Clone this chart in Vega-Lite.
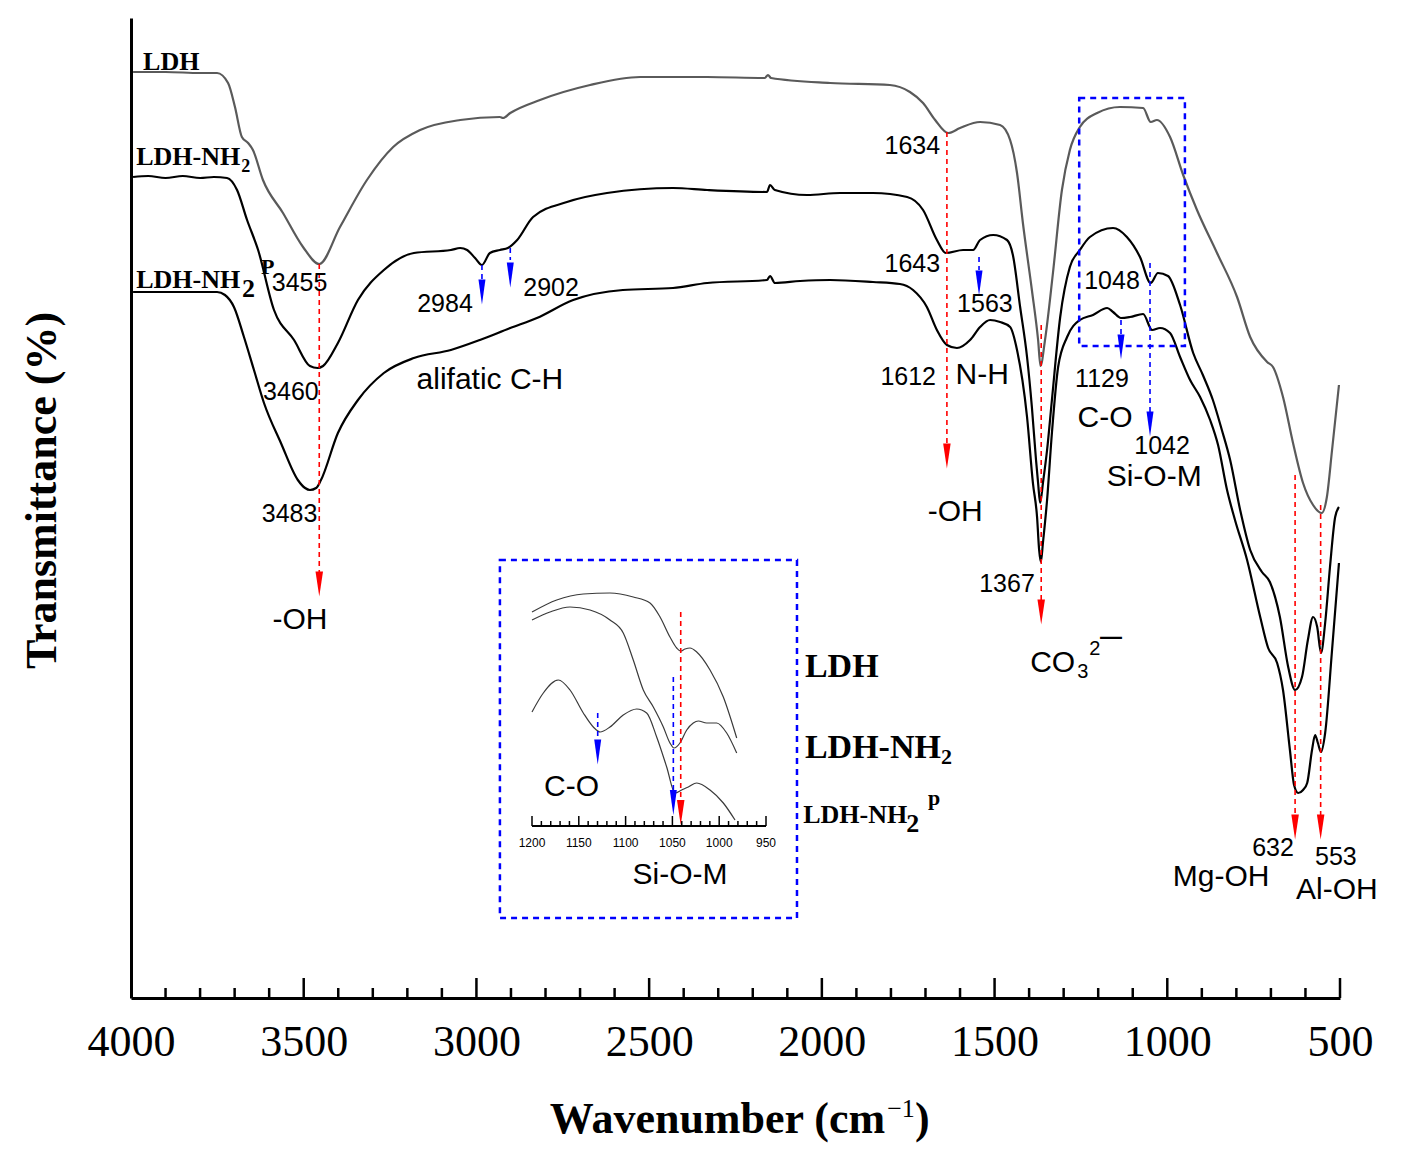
{
"$schema":"https://vega.github.io/schema/vega-lite/v6.json",
"width":1209,"height":980,
"autosize":{"type":"none"},
"padding":{"left":131,"top":18,"right":62,"bottom":161},
"background":"white",
"config":{"view":{"stroke":null}},
"datasets":{
"spec":[
{"s":"LDH","wn":3994,"t":92.6},{"s":"LDH","wn":3900,"t":92.6},{"s":"LDH","wn":3800,"t":92.5},{"s":"LDH","wn":3751,"t":92.5},{"s":"LDH","wn":3719,"t":91.5},{"s":"LDH","wn":3699,"t":89.1},{"s":"LDH","wn":3679,"t":86.1},{"s":"LDH","wn":3661,"t":85.5},{"s":"LDH","wn":3647,"t":84.8},{"s":"LDH","wn":3618,"t":81.8},{"s":"LDH","wn":3560,"t":78.5},{"s":"LDH","wn":3502,"t":75.1},{"s":"LDH","wn":3455,"t":73.4},{"s":"LDH","wn":3395,"t":77.1},{"s":"LDH","wn":3317,"t":81.8},{"s":"LDH","wn":3241,"t":85.1},{"s":"LDH","wn":3163,"t":86.8},{"s":"LDH","wn":3047,"t":87.8},{"s":"LDH","wn":2932,"t":88.1},{"s":"LDH","wn":2923,"t":88.0},{"s":"LDH","wn":2902,"t":88.5},{"s":"LDH","wn":2816,"t":89.8},{"s":"LDH","wn":2671,"t":91.3},{"s":"LDH","wn":2526,"t":92.1},{"s":"LDH","wn":2332,"t":92.1},{"s":"LDH","wn":2165,"t":92.0},{"s":"LDH","wn":2156,"t":92.3},{"s":"LDH","wn":2147,"t":92.0},{"s":"LDH","wn":1976,"t":91.5},{"s":"LDH","wn":1803,"t":91.3},{"s":"LDH","wn":1745,"t":90.6},{"s":"LDH","wn":1707,"t":89.5},{"s":"LDH","wn":1672,"t":87.8},{"s":"LDH","wn":1634,"t":86.5},{"s":"LDH","wn":1600,"t":87.0},{"s":"LDH","wn":1542,"t":87.6},{"s":"LDH","wn":1484,"t":87.3},{"s":"LDH","wn":1455,"t":85.8},{"s":"LDH","wn":1435,"t":82.5},{"s":"LDH","wn":1418,"t":77.5},{"s":"LDH","wn":1392,"t":70.8},{"s":"LDH","wn":1374,"t":65.8},{"s":"LDH","wn":1367,"t":63.2},{"s":"LDH","wn":1354,"t":65.8},{"s":"LDH","wn":1331,"t":72.5},{"s":"LDH","wn":1305,"t":80.8},{"s":"LDH","wn":1282,"t":84.8},{"s":"LDH","wn":1253,"t":87.1},{"s":"LDH","wn":1203,"t":88.5},{"s":"LDH","wn":1137,"t":89.1},{"s":"LDH","wn":1070,"t":89.0},{"s":"LDH","wn":1048,"t":87.6},{"s":"LDH","wn":1030,"t":87.8},{"s":"LDH","wn":992,"t":86.1},{"s":"LDH","wn":954,"t":82.3},{"s":"LDH","wn":914,"t":78.8},{"s":"LDH","wn":856,"t":74.5},{"s":"LDH","wn":798,"t":70.1},{"s":"LDH","wn":760,"t":66.1},{"s":"LDH","wn":711,"t":63.6},{"s":"LDH","wn":694,"t":63.1},{"s":"LDH","wn":665,"t":60.1},{"s":"LDH","wn":636,"t":55.5},{"s":"LDH","wn":607,"t":51.5},{"s":"LDH","wn":578,"t":49.3},{"s":"LDH","wn":553,"t":48.5},{"s":"LDH","wn":538,"t":50.1},{"s":"LDH","wn":523,"t":54.8},{"s":"LDH","wn":503,"t":61.3},
{"s":"LDH-NH2","wn":3994,"t":82.1},{"s":"LDH-NH2","wn":3950,"t":82.2},{"s":"LDH-NH2","wn":3900,"t":82.0},{"s":"LDH-NH2","wn":3850,"t":82.2},{"s":"LDH-NH2","wn":3800,"t":82.0},{"s":"LDH-NH2","wn":3760,"t":82.1},{"s":"LDH-NH2","wn":3722,"t":82.0},{"s":"LDH-NH2","wn":3693,"t":80.8},{"s":"LDH-NH2","wn":3664,"t":77.8},{"s":"LDH-NH2","wn":3632,"t":74.8},{"s":"LDH-NH2","wn":3586,"t":68.8},{"s":"LDH-NH2","wn":3528,"t":65.8},{"s":"LDH-NH2","wn":3482,"t":63.2},{"s":"LDH-NH2","wn":3460,"t":63.0},{"s":"LDH-NH2","wn":3444,"t":63.2},{"s":"LDH-NH2","wn":3401,"t":65.5},{"s":"LDH-NH2","wn":3343,"t":69.8},{"s":"LDH-NH2","wn":3268,"t":72.8},{"s":"LDH-NH2","wn":3181,"t":74.5},{"s":"LDH-NH2","wn":3074,"t":74.8},{"s":"LDH-NH2","wn":3047,"t":75.0},{"s":"LDH-NH2","wn":3027,"t":74.8},{"s":"LDH-NH2","wn":3004,"t":74.0},{"s":"LDH-NH2","wn":2984,"t":73.3},{"s":"LDH-NH2","wn":2961,"t":74.5},{"s":"LDH-NH2","wn":2932,"t":74.8},{"s":"LDH-NH2","wn":2909,"t":75.0},{"s":"LDH-NH2","wn":2882,"t":75.8},{"s":"LDH-NH2","wn":2836,"t":78.1},{"s":"LDH-NH2","wn":2738,"t":79.6},{"s":"LDH-NH2","wn":2622,"t":80.5},{"s":"LDH-NH2","wn":2431,"t":81.0},{"s":"LDH-NH2","wn":2332,"t":80.8},{"s":"LDH-NH2","wn":2159,"t":80.6},{"s":"LDH-NH2","wn":2150,"t":81.3},{"s":"LDH-NH2","wn":2136,"t":80.8},{"s":"LDH-NH2","wn":2043,"t":80.3},{"s":"LDH-NH2","wn":1947,"t":80.5},{"s":"LDH-NH2","wn":1852,"t":80.5},{"s":"LDH-NH2","wn":1753,"t":80.1},{"s":"LDH-NH2","wn":1707,"t":78.8},{"s":"LDH-NH2","wn":1667,"t":75.8},{"s":"LDH-NH2","wn":1641,"t":74.5},{"s":"LDH-NH2","wn":1591,"t":74.8},{"s":"LDH-NH2","wn":1562,"t":74.8},{"s":"LDH-NH2","wn":1542,"t":75.8},{"s":"LDH-NH2","wn":1504,"t":76.3},{"s":"LDH-NH2","wn":1464,"t":75.8},{"s":"LDH-NH2","wn":1447,"t":74.3},{"s":"LDH-NH2","wn":1426,"t":69.1},{"s":"LDH-NH2","wn":1406,"t":64.1},{"s":"LDH-NH2","wn":1392,"t":59.1},{"s":"LDH-NH2","wn":1380,"t":53.8},{"s":"LDH-NH2","wn":1374,"t":51.5},{"s":"LDH-NH2","wn":1368,"t":49.5},{"s":"LDH-NH2","wn":1360,"t":51.5},{"s":"LDH-NH2","wn":1348,"t":54.8},{"s":"LDH-NH2","wn":1334,"t":59.8},{"s":"LDH-NH2","wn":1310,"t":68.1},{"s":"LDH-NH2","wn":1282,"t":73.1},{"s":"LDH-NH2","wn":1253,"t":74.8},{"s":"LDH-NH2","wn":1224,"t":76.1},{"s":"LDH-NH2","wn":1157,"t":77.0},{"s":"LDH-NH2","wn":1117,"t":76.1},{"s":"LDH-NH2","wn":1079,"t":74.1},{"s":"LDH-NH2","wn":1048,"t":71.5},{"s":"LDH-NH2","wn":1027,"t":72.5},{"s":"LDH-NH2","wn":998,"t":72.2},{"s":"LDH-NH2","wn":963,"t":69.3},{"s":"LDH-NH2","wn":925,"t":64.5},{"s":"LDH-NH2","wn":897,"t":62.3},{"s":"LDH-NH2","wn":868,"t":59.8},{"s":"LDH-NH2","wn":842,"t":56.8},{"s":"LDH-NH2","wn":818,"t":53.8},{"s":"LDH-NH2","wn":789,"t":48.8},{"s":"LDH-NH2","wn":760,"t":44.8},{"s":"LDH-NH2","wn":726,"t":42.6},{"s":"LDH-NH2","wn":703,"t":41.6},{"s":"LDH-NH2","wn":674,"t":38.1},{"s":"LDH-NH2","wn":650,"t":33.1},{"s":"LDH-NH2","wn":630,"t":30.8},{"s":"LDH-NH2","wn":610,"t":32.1},{"s":"LDH-NH2","wn":593,"t":35.8},{"s":"LDH-NH2","wn":578,"t":38.1},{"s":"LDH-NH2","wn":566,"t":37.1},{"s":"LDH-NH2","wn":555,"t":34.5},{"s":"LDH-NH2","wn":543,"t":37.5},{"s":"LDH-NH2","wn":529,"t":43.1},{"s":"LDH-NH2","wn":514,"t":48.1},{"s":"LDH-NH2","wn":503,"t":49.1},
{"s":"LDH-NH2p","wn":3994,"t":70.6},{"s":"LDH-NH2p","wn":3900,"t":70.6},{"s":"LDH-NH2p","wn":3800,"t":70.6},{"s":"LDH-NH2p","wn":3751,"t":70.6},{"s":"LDH-NH2p","wn":3728,"t":70.3},{"s":"LDH-NH2p","wn":3702,"t":69.1},{"s":"LDH-NH2p","wn":3673,"t":66.1},{"s":"LDH-NH2p","wn":3644,"t":62.8},{"s":"LDH-NH2p","wn":3615,"t":59.5},{"s":"LDH-NH2p","wn":3566,"t":55.5},{"s":"LDH-NH2p","wn":3517,"t":51.8},{"s":"LDH-NH2p","wn":3496,"t":51.0},{"s":"LDH-NH2p","wn":3482,"t":50.8},{"s":"LDH-NH2p","wn":3464,"t":51.0},{"s":"LDH-NH2p","wn":3450,"t":51.8},{"s":"LDH-NH2p","wn":3401,"t":56.5},{"s":"LDH-NH2p","wn":3343,"t":59.8},{"s":"LDH-NH2p","wn":3268,"t":62.5},{"s":"LDH-NH2p","wn":3181,"t":64.0},{"s":"LDH-NH2p","wn":3074,"t":64.8},{"s":"LDH-NH2p","wn":2990,"t":65.8},{"s":"LDH-NH2p","wn":2902,"t":67.0},{"s":"LDH-NH2p","wn":2825,"t":68.0},{"s":"LDH-NH2p","wn":2720,"t":69.8},{"s":"LDH-NH2p","wn":2576,"t":70.8},{"s":"LDH-NH2p","wn":2431,"t":71.0},{"s":"LDH-NH2p","wn":2332,"t":71.5},{"s":"LDH-NH2p","wn":2159,"t":71.8},{"s":"LDH-NH2p","wn":2150,"t":72.2},{"s":"LDH-NH2p","wn":2136,"t":71.5},{"s":"LDH-NH2p","wn":2063,"t":71.7},{"s":"LDH-NH2p","wn":1976,"t":71.8},{"s":"LDH-NH2p","wn":1852,"t":71.6},{"s":"LDH-NH2p","wn":1774,"t":71.4},{"s":"LDH-NH2p","wn":1736,"t":70.8},{"s":"LDH-NH2p","wn":1696,"t":69.1},{"s":"LDH-NH2p","wn":1667,"t":66.8},{"s":"LDH-NH2p","wn":1638,"t":65.3},{"s":"LDH-NH2p","wn":1609,"t":65.0},{"s":"LDH-NH2p","wn":1571,"t":65.8},{"s":"LDH-NH2p","wn":1542,"t":67.1},{"s":"LDH-NH2p","wn":1513,"t":67.8},{"s":"LDH-NH2p","wn":1484,"t":67.6},{"s":"LDH-NH2p","wn":1455,"t":67.1},{"s":"LDH-NH2p","wn":1435,"t":64.8},{"s":"LDH-NH2p","wn":1406,"t":58.1},{"s":"LDH-NH2p","wn":1389,"t":51.5},{"s":"LDH-NH2p","wn":1377,"t":48.1},{"s":"LDH-NH2p","wn":1371,"t":44.8},{"s":"LDH-NH2p","wn":1366,"t":43.6},{"s":"LDH-NH2p","wn":1360,"t":45.5},{"s":"LDH-NH2p","wn":1348,"t":49.8},{"s":"LDH-NH2p","wn":1334,"t":56.5},{"s":"LDH-NH2p","wn":1316,"t":63.1},{"s":"LDH-NH2p","wn":1290,"t":66.1},{"s":"LDH-NH2p","wn":1253,"t":67.8},{"s":"LDH-NH2p","wn":1215,"t":68.3},{"s":"LDH-NH2p","wn":1174,"t":69.0},{"s":"LDH-NH2p","wn":1157,"t":68.6},{"s":"LDH-NH2p","wn":1134,"t":68.0},{"s":"LDH-NH2p","wn":1108,"t":68.1},{"s":"LDH-NH2p","wn":1070,"t":68.4},{"s":"LDH-NH2p","wn":1044,"t":66.8},{"s":"LDH-NH2p","wn":1021,"t":67.0},{"s":"LDH-NH2p","wn":992,"t":66.5},{"s":"LDH-NH2p","wn":963,"t":64.1},{"s":"LDH-NH2p","wn":934,"t":61.8},{"s":"LDH-NH2p","wn":905,"t":60.1},{"s":"LDH-NH2p","wn":876,"t":57.8},{"s":"LDH-NH2p","wn":853,"t":55.3},{"s":"LDH-NH2p","wn":827,"t":50.8},{"s":"LDH-NH2p","wn":804,"t":47.8},{"s":"LDH-NH2p","wn":769,"t":43.8},{"s":"LDH-NH2p","wn":731,"t":38.1},{"s":"LDH-NH2p","wn":708,"t":35.0},{"s":"LDH-NH2p","wn":682,"t":33.5},{"s":"LDH-NH2p","wn":665,"t":30.8},{"s":"LDH-NH2p","wn":645,"t":24.8},{"s":"LDH-NH2p","wn":633,"t":21.3},{"s":"LDH-NH2p","wn":621,"t":20.5},{"s":"LDH-NH2p","wn":607,"t":20.8},{"s":"LDH-NH2p","wn":595,"t":21.5},{"s":"LDH-NH2p","wn":581,"t":24.8},{"s":"LDH-NH2p","wn":572,"t":26.3},{"s":"LDH-NH2p","wn":564,"t":25.5},{"s":"LDH-NH2p","wn":555,"t":24.6},{"s":"LDH-NH2p","wn":543,"t":26.5},{"s":"LDH-NH2p","wn":523,"t":34.8},{"s":"LDH-NH2p","wn":503,"t":43.5}
],
"rules":[
{"c":"r","wn":3455,"t1":73.4,"t2":42.6},{"c":"r","wn":1638,"t1":86.6,"t2":55.3},{"c":"r","wn":1365,"t1":67.3,"t2":39.8},{"c":"r","wn":630,"t1":52.3,"t2":18.3},{"c":"r","wn":556,"t1":49.3,"t2":18.3},
{"c":"b","wn":2984,"t1":73.3,"t2":71.8},{"c":"b","wn":2902,"t1":75.0,"t2":73.8},{"c":"b","wn":1545,"t1":74.1,"t2":72.8},{"c":"b","wn":1134,"t1":67.8,"t2":66.3},{"c":"b","wn":1050,"t1":73.5,"t2":58.6}
],
"arrows":[
{"c":"r","wn":3455,"t":41.4},{"c":"r","wn":1638,"t":54.2},{"c":"r","wn":1365,"t":38.6},{"c":"r","wn":630,"t":17.1},{"c":"r","wn":556,"t":17.1},
{"c":"b","wn":2984,"t":70.6},{"c":"b","wn":2902,"t":72.3},{"c":"b","wn":1545,"t":71.5},{"c":"b","wn":1134,"t":65.1},{"c":"b","wn":1050,"t":57.4}
],
"boxes":[{"wn":1255,"wn2":949,"t":90.0,"t2":65.2},{"wn":2932,"wn2":2072,"t":43.8,"t2":8.0}],
"ticks":[
{"wn":3500,"t0":0,"len":2},{"wn":3000,"t0":0,"len":2},{"wn":2500,"t0":0,"len":2},{"wn":2000,"t0":0,"len":2},{"wn":1500,"t0":0,"len":2},{"wn":1000,"t0":0,"len":2},{"wn":500,"t0":0,"len":2},
{"wn":3900,"t0":0,"len":1},{"wn":3800,"t0":0,"len":1},{"wn":3700,"t0":0,"len":1},{"wn":3600,"t0":0,"len":1},{"wn":3400,"t0":0,"len":1},{"wn":3300,"t0":0,"len":1},{"wn":3200,"t0":0,"len":1},{"wn":3100,"t0":0,"len":1},{"wn":2900,"t0":0,"len":1},{"wn":2800,"t0":0,"len":1},{"wn":2700,"t0":0,"len":1},{"wn":2600,"t0":0,"len":1},{"wn":2400,"t0":0,"len":1},{"wn":2300,"t0":0,"len":1},{"wn":2200,"t0":0,"len":1},{"wn":2100,"t0":0,"len":1},{"wn":1900,"t0":0,"len":1},{"wn":1800,"t0":0,"len":1},{"wn":1700,"t0":0,"len":1},{"wn":1600,"t0":0,"len":1},{"wn":1400,"t0":0,"len":1},{"wn":1300,"t0":0,"len":1},{"wn":1200,"t0":0,"len":1},{"wn":1100,"t0":0,"len":1},{"wn":900,"t0":0,"len":1},{"wn":800,"t0":0,"len":1},{"wn":700,"t0":0,"len":1},{"wn":600,"t0":0,"len":1}
],
"lab":[
{"g":"num","wn":3512,"t":71.5,"text":"3455"},{"g":"num","wn":3537,"t":60.6,"text":"3460"},{"g":"num","wn":3541,"t":48.4,"text":"3483"},{"g":"num","wn":3091,"t":69.4,"text":"2984"},{"g":"num","wn":2784,"t":71.0,"text":"2902"},{"g":"num","wn":1738,"t":85.2,"text":"1634"},{"g":"num","wn":1738,"t":73.4,"text":"1643"},{"g":"num","wn":1750,"t":62.1,"text":"1612"},{"g":"num","wn":1528,"t":69.4,"text":"1563"},{"g":"num","wn":1464,"t":41.4,"text":"1367"},{"g":"num","wn":1160,"t":71.7,"text":"1048"},{"g":"num","wn":1189,"t":61.9,"text":"1129"},{"g":"num","wn":1015,"t":55.2,"text":"1042"},{"g":"num","wn":694,"t":15.0,"text":"632"},{"g":"num","wn":512,"t":14.1,"text":"553"},
{"g":"word","wn":3511,"t":37.8,"text":"-OH"},{"g":"word","wn":2961,"t":61.8,"text":"alifatic C-H"},{"g":"word","wn":1536,"t":62.3,"text":"N-H"},{"g":"word","wn":1614,"t":48.6,"text":"-OH"},{"g":"word","wn":1180,"t":58.0,"text":"C-O"},{"g":"word","wn":1038,"t":52.1,"text":"Si-O-M"},{"g":"word","wn":844,"t":12.1,"text":"Mg-OH"},{"g":"word","wn":509,"t":10.8,"text":"Al-OH"},
{"g":"co","wn":1397,"t":32.6,"text":"CO"},{"g":"cosub","wn":1261,"t":32.0,"text":"3"},{"g":"cosub","wn":1226,"t":34.3,"text":"2"},{"g":"codash","wn":1195,"t":35.4,"text":"—"},
{"g":"name","wn":3965,"t":92.8,"text":"LDH"},{"g":"name","wn":3985,"t":83.3,"text":"LDH-NH"},{"g":"name","wn":3985,"t":71.0,"text":"LDH-NH"},{"g":"name","wn":3679,"t":70.1,"text":"2"},
{"g":"namesub","wn":3681,"t":82.6,"text":"2"},{"g":"nameP","wn":3624,"t":72.4,"text":"P"},
{"g":"iname","wn":2049,"t":32.1,"text":"LDH"},{"g":"iname","wn":2049,"t":24.0,"text":"LDH-NH"},
{"g":"inamesub","wn":1655,"t":23.4,"text":"2"},{"g":"inamesub","wn":1693,"t":19.3,"text":"p"},
{"g":"iname3","wn":2054,"t":17.5,"text":"LDH-NH"},{"g":"iname3","wn":1756,"t":16.6,"text":"2"},
{"g":"xtitle","wn":1817,"t":-13.5,"text":"Wavenumber (cm"},{"g":"xtitle2","wn":1730,"t":-13.5,"text":")"},{"g":"xsup","wn":1811,"t":-11.9,"text":"−1"}
],
"inset":[
{"s":"i1","wn":1200,"t":38.6},{"s":"i1","wn":1173.6,"t":39.8},{"s":"i1","wn":1145.2,"t":40.4},{"s":"i1","wn":1116.7,"t":40.5},{"s":"i1","wn":1091.8,"t":40.1},{"s":"i1","wn":1073.9,"t":39.5},{"s":"i1","wn":1063.2,"t":38.1},{"s":"i1","wn":1052.6,"t":36.1},{"s":"i1","wn":1045.4,"t":35.0},{"s":"i1","wn":1041.1,"t":34.7},{"s":"i1","wn":1036.5,"t":34.9},{"s":"i1","wn":1031.2,"t":35.0},{"s":"i1","wn":1024.0,"t":34.6},{"s":"i1","wn":1009.8,"t":32.8},{"s":"i1","wn":995.6,"t":30.1},{"s":"i1","wn":981.3,"t":26.0},
{"s":"i2","wn":1200,"t":37.8},{"s":"i2","wn":1180.8,"t":38.6},{"s":"i2","wn":1159.4,"t":39.1},{"s":"i2","wn":1138.0,"t":38.8},{"s":"i2","wn":1116.7,"t":37.8},{"s":"i2","wn":1102.5,"t":36.5},{"s":"i2","wn":1091.8,"t":33.8},{"s":"i2","wn":1081.1,"t":30.8},{"s":"i2","wn":1070.4,"t":29.1},{"s":"i2","wn":1059.7,"t":27.1},{"s":"i2","wn":1052.6,"t":25.5},{"s":"i2","wn":1048.3,"t":25.0},{"s":"i2","wn":1041.9,"t":25.5},{"s":"i2","wn":1034.7,"t":26.8},{"s":"i2","wn":1027.7,"t":27.5},{"s":"i2","wn":1022.3,"t":27.7},{"s":"i2","wn":1013.4,"t":27.5},{"s":"i2","wn":1002.7,"t":27.5},{"s":"i2","wn":992.0,"t":26.5},{"s":"i2","wn":981.3,"t":24.5},
{"s":"i3","wn":1200,"t":28.6},{"s":"i3","wn":1187.9,"t":30.5},{"s":"i3","wn":1171.9,"t":31.8},{"s":"i3","wn":1159.4,"t":30.8},{"s":"i3","wn":1145.2,"t":28.5},{"s":"i3","wn":1134.5,"t":27.1},{"s":"i3","wn":1127.3,"t":26.6},{"s":"i3","wn":1116.7,"t":27.1},{"s":"i3","wn":1102.5,"t":28.3},{"s":"i3","wn":1088.1,"t":28.9},{"s":"i3","wn":1077.5,"t":28.5},{"s":"i3","wn":1066.8,"t":26.1},{"s":"i3","wn":1056.1,"t":23.1},{"s":"i3","wn":1047.2,"t":20.5},{"s":"i3","wn":1040.1,"t":20.8},{"s":"i3","wn":1033.0,"t":21.1},{"s":"i3","wn":1024.0,"t":21.5},{"s":"i3","wn":1009.8,"t":20.8},{"s":"i3","wn":995.6,"t":19.5},{"s":"i3","wn":983.1,"t":17.8}
],
"irules":[{"c":"r","wn":1041.1,"t1":38.6,"t2":19.8},{"c":"b","wn":1049.0,"t1":32.1,"t2":20.8},{"c":"b","wn":1129.8,"t1":28.5,"t2":25.8}],
"iarrows":[{"c":"r","wn":1041.1,"t":18.55},{"c":"b","wn":1049.0,"t":19.55},{"c":"b","wn":1129.8,"t":24.6}],
"iaxis":[{"wn":1200,"wn2":950,"t":17.2}],
"iticks":[
{"wn":1200,"t1":17.2,"t2":18.2},{"wn":1150,"t1":17.2,"t2":18.2},{"wn":1100,"t1":17.2,"t2":18.2},{"wn":1050,"t1":17.2,"t2":18.2},{"wn":1000,"t1":17.2,"t2":18.2},{"wn":950,"t1":17.2,"t2":18.2},
{"wn":1190,"t1":17.2,"t2":17.7},{"wn":1180,"t1":17.2,"t2":17.7},{"wn":1170,"t1":17.2,"t2":17.7},{"wn":1160,"t1":17.2,"t2":17.7},{"wn":1140,"t1":17.2,"t2":17.7},{"wn":1130,"t1":17.2,"t2":17.7},{"wn":1120,"t1":17.2,"t2":17.7},{"wn":1110,"t1":17.2,"t2":17.7},{"wn":1090,"t1":17.2,"t2":17.7},{"wn":1080,"t1":17.2,"t2":17.7},{"wn":1070,"t1":17.2,"t2":17.7},{"wn":1060,"t1":17.2,"t2":17.7},{"wn":1040,"t1":17.2,"t2":17.7},{"wn":1030,"t1":17.2,"t2":17.7},{"wn":1020,"t1":17.2,"t2":17.7},{"wn":1010,"t1":17.2,"t2":17.7},{"wn":990,"t1":17.2,"t2":17.7},{"wn":980,"t1":17.2,"t2":17.7},{"wn":970,"t1":17.2,"t2":17.7},{"wn":960,"t1":17.2,"t2":17.7}
],
"ilab":[
{"g":"tick","wn":1200,"t":15.5,"text":"1200"},{"g":"tick","wn":1150,"t":15.5,"text":"1150"},{"g":"tick","wn":1100,"t":15.5,"text":"1100"},{"g":"tick","wn":1050,"t":15.5,"text":"1050"},{"g":"tick","wn":1000,"t":15.5,"text":"1000"},{"g":"tick","wn":950,"t":15.5,"text":"950"},
{"g":"word","wn":1157.8,"t":21.1,"text":"C-O"},{"g":"word","wn":1041.9,"t":12.3,"text":"Si-O-M"}
]
},
"resolve":{"scale":{"x":"independent"}},
"layer":[
{"layer":[
{"data":{"name":"spec"},"mark":{"type":"line","strokeWidth":2.2,"interpolate":"monotone"},
 "encoding":{
  "x":{"field":"wn","type":"quantitative","scale":{"domain":[4000,500],"nice":false,"zero":false},
   "axis":{"values":[4000,3500,3000,2500,2000,1500,1000,500],"format":"d","ticks":false,"grid":false,"domainColor":"black","domainWidth":3,"labelFont":"Liberation Serif","labelFontSize":44,"labelColor":"black","labelPadding":22,"labelFlush":false,"labelOverlap":false,"title":null}},
  "y":{"field":"t","type":"quantitative","scale":{"domain":[0,98],"nice":false,"zero":false},
   "axis":{"ticks":false,"labels":false,"grid":false,"domainColor":"black","domainWidth":3,"title":"Transmittance (%)","titleFont":"Liberation Serif","titleFontSize":44,"titleFontWeight":"bold","titleColor":"black","titleX":-89,"titleY":472,"titleAngle":-90,"titleAlign":"center","titleBaseline":"middle"}},
  "color":{"field":"s","type":"nominal","scale":{"domain":["LDH","LDH-NH2","LDH-NH2p"],"range":["#5a5a5a","#000000","#000000"]},"legend":null}}},
{"data":{"name":"ticks"},"mark":{"type":"rule","color":"black","strokeWidth":2.5},
 "encoding":{"x":{"field":"wn","type":"quantitative"},"y":{"field":"t0","type":"quantitative"},"y2":{"field":"len"}}},
{"data":{"name":"rules"},"transform":[{"filter":"datum.c=='r'"}],"mark":{"type":"rule","color":"#ff0000","strokeDash":[5,4],"strokeWidth":1.6},
 "encoding":{"x":{"field":"wn","type":"quantitative"},"y":{"field":"t1","type":"quantitative"},"y2":{"field":"t2"}}},
{"data":{"name":"rules"},"transform":[{"filter":"datum.c=='b'"}],"mark":{"type":"rule","color":"#0000ff","strokeDash":[5,4],"strokeWidth":1.6},
 "encoding":{"x":{"field":"wn","type":"quantitative"},"y":{"field":"t1","type":"quantitative"},"y2":{"field":"t2"}}},
{"data":{"name":"arrows"},"transform":[{"filter":"datum.c=='r'"}],"mark":{"type":"point","shape":"M-0.3,-1L0.3,-1L0,1Z","size":625,"filled":true,"color":"#ff0000","opacity":1,"strokeWidth":0},
 "encoding":{"x":{"field":"wn","type":"quantitative"},"y":{"field":"t","type":"quantitative"}}},
{"data":{"name":"arrows"},"transform":[{"filter":"datum.c=='b'"}],"mark":{"type":"point","shape":"M-0.28,-1L0.28,-1L0,1Z","size":625,"filled":true,"color":"#0000ff","opacity":1,"strokeWidth":0},
 "encoding":{"x":{"field":"wn","type":"quantitative"},"y":{"field":"t","type":"quantitative"}}},
{"data":{"name":"boxes"},"mark":{"type":"rect","filled":false,"stroke":"#0000ff","strokeWidth":2.5,"strokeDash":[6,5]},
 "encoding":{"x":{"field":"wn","type":"quantitative"},"x2":{"field":"wn2"},"y":{"field":"t","type":"quantitative"},"y2":{"field":"t2"}}},
{"data":{"name":"lab"},"transform":[{"filter":"datum.g=='num'"}],"mark":{"type":"text","font":"Liberation Sans","fontSize":25,"align":"center","baseline":"middle","color":"black"},
 "encoding":{"x":{"field":"wn","type":"quantitative"},"y":{"field":"t","type":"quantitative"},"text":{"field":"text","type":"nominal"}}},
{"data":{"name":"lab"},"transform":[{"filter":"datum.g=='word'"}],"mark":{"type":"text","font":"Liberation Sans","fontSize":30,"align":"center","baseline":"middle","color":"black"},
 "encoding":{"x":{"field":"wn","type":"quantitative"},"y":{"field":"t","type":"quantitative"},"text":{"field":"text","type":"nominal"}}},
{"data":{"name":"lab"},"transform":[{"filter":"datum.g=='co'"}],"mark":{"type":"text","font":"Liberation Sans","fontSize":30,"align":"left","baseline":"alphabetic","color":"black"},
 "encoding":{"x":{"field":"wn","type":"quantitative"},"y":{"field":"t","type":"quantitative"},"text":{"field":"text","type":"nominal"}}},
{"data":{"name":"lab"},"transform":[{"filter":"datum.g=='cosub'"}],"mark":{"type":"text","font":"Liberation Sans","fontSize":20,"align":"left","baseline":"alphabetic","color":"black"},
 "encoding":{"x":{"field":"wn","type":"quantitative"},"y":{"field":"t","type":"quantitative"},"text":{"field":"text","type":"nominal"}}},
{"data":{"name":"lab"},"transform":[{"filter":"datum.g=='codash'"}],"mark":{"type":"text","font":"Liberation Sans","fontSize":22,"align":"left","baseline":"alphabetic","color":"black","fontWeight":"bold"},
 "encoding":{"x":{"field":"wn","type":"quantitative"},"y":{"field":"t","type":"quantitative"},"text":{"field":"text","type":"nominal"}}},
{"data":{"name":"lab"},"transform":[{"filter":"datum.g=='name'"}],"mark":{"type":"text","font":"Liberation Serif","fontSize":26,"fontWeight":"bold","align":"left","baseline":"alphabetic","color":"black"},
 "encoding":{"x":{"field":"wn","type":"quantitative"},"y":{"field":"t","type":"quantitative"},"text":{"field":"text","type":"nominal"}}},
{"data":{"name":"lab"},"transform":[{"filter":"datum.g=='namesub'"}],"mark":{"type":"text","font":"Liberation Serif","fontSize":18,"fontWeight":"bold","align":"left","baseline":"alphabetic","color":"black"},
 "encoding":{"x":{"field":"wn","type":"quantitative"},"y":{"field":"t","type":"quantitative"},"text":{"field":"text","type":"nominal"}}},
{"data":{"name":"lab"},"transform":[{"filter":"datum.g=='nameP'"}],"mark":{"type":"text","font":"Liberation Serif","fontSize":22,"fontWeight":"bold","align":"left","baseline":"alphabetic","color":"black"},
 "encoding":{"x":{"field":"wn","type":"quantitative"},"y":{"field":"t","type":"quantitative"},"text":{"field":"text","type":"nominal"}}},
{"data":{"name":"lab"},"transform":[{"filter":"datum.g=='iname'"}],"mark":{"type":"text","font":"Liberation Serif","fontSize":34,"fontWeight":"bold","align":"left","baseline":"alphabetic","color":"black"},
 "encoding":{"x":{"field":"wn","type":"quantitative"},"y":{"field":"t","type":"quantitative"},"text":{"field":"text","type":"nominal"}}},
{"data":{"name":"lab"},"transform":[{"filter":"datum.g=='inamesub'"}],"mark":{"type":"text","font":"Liberation Serif","fontSize":22,"fontWeight":"bold","align":"left","baseline":"alphabetic","color":"black"},
 "encoding":{"x":{"field":"wn","type":"quantitative"},"y":{"field":"t","type":"quantitative"},"text":{"field":"text","type":"nominal"}}},
{"data":{"name":"lab"},"transform":[{"filter":"datum.g=='iname3'"}],"mark":{"type":"text","font":"Liberation Serif","fontSize":26,"fontWeight":"bold","align":"left","baseline":"alphabetic","color":"black"},
 "encoding":{"x":{"field":"wn","type":"quantitative"},"y":{"field":"t","type":"quantitative"},"text":{"field":"text","type":"nominal"}}},
{"data":{"name":"lab"},"transform":[{"filter":"datum.g=='xtitle'"}],"mark":{"type":"text","font":"Liberation Serif","fontSize":44,"fontWeight":"bold","align":"right","baseline":"alphabetic","color":"black"},
 "encoding":{"x":{"field":"wn","type":"quantitative"},"y":{"field":"t","type":"quantitative"},"text":{"field":"text","type":"nominal"}}},
{"data":{"name":"lab"},"transform":[{"filter":"datum.g=='xtitle2'"}],"mark":{"type":"text","font":"Liberation Serif","fontSize":44,"fontWeight":"bold","align":"left","baseline":"alphabetic","color":"black"},
 "encoding":{"x":{"field":"wn","type":"quantitative"},"y":{"field":"t","type":"quantitative"},"text":{"field":"text","type":"nominal"}}},
{"data":{"name":"lab"},"transform":[{"filter":"datum.g=='xsup'"}],"mark":{"type":"text","font":"Liberation Serif","fontSize":26,"align":"left","baseline":"alphabetic","color":"black"},
 "encoding":{"x":{"field":"wn","type":"quantitative"},"y":{"field":"t","type":"quantitative"},"text":{"field":"text","type":"nominal"}}}
]},
{"layer":[
{"data":{"name":"inset"},"mark":{"type":"line","strokeWidth":1.2,"color":"#3a3a3a","interpolate":"monotone"},
 "encoding":{"x":{"field":"wn","type":"quantitative","scale":{"domain":[1200,950],"range":[401,635],"nice":false,"zero":false},"axis":null},"y":{"field":"t","type":"quantitative","scale":{"domain":[0,98],"nice":false,"zero":false}},"detail":{"field":"s","type":"nominal"}}},
{"data":{"name":"iaxis"},"mark":{"type":"rule","color":"black","strokeWidth":2},
 "encoding":{"x":{"field":"wn","type":"quantitative","axis":null},"x2":{"field":"wn2"},"y":{"field":"t","type":"quantitative"}}},
{"data":{"name":"iticks"},"mark":{"type":"rule","color":"black","strokeWidth":1.5},
 "encoding":{"x":{"field":"wn","type":"quantitative","axis":null},"y":{"field":"t1","type":"quantitative"},"y2":{"field":"t2"}}},
{"data":{"name":"irules"},"transform":[{"filter":"datum.c=='r'"}],"mark":{"type":"rule","color":"#ff0000","strokeDash":[5,4],"strokeWidth":1.6},
 "encoding":{"x":{"field":"wn","type":"quantitative","axis":null},"y":{"field":"t1","type":"quantitative"},"y2":{"field":"t2"}}},
{"data":{"name":"irules"},"transform":[{"filter":"datum.c=='b'"}],"mark":{"type":"rule","color":"#0000ff","strokeDash":[5,4],"strokeWidth":1.6},
 "encoding":{"x":{"field":"wn","type":"quantitative","axis":null},"y":{"field":"t1","type":"quantitative"},"y2":{"field":"t2"}}},
{"data":{"name":"iarrows"},"transform":[{"filter":"datum.c=='b'"}],"mark":{"type":"point","shape":"M-0.28,-1L0.28,-1L0,1Z","size":625,"filled":true,"color":"#0000ff","opacity":1,"strokeWidth":0},
 "encoding":{"x":{"field":"wn","type":"quantitative","axis":null},"y":{"field":"t","type":"quantitative"}}},
{"data":{"name":"iarrows"},"transform":[{"filter":"datum.c=='r'"}],"mark":{"type":"point","shape":"M-0.3,-1L0.3,-1L0,1Z","size":625,"filled":true,"color":"#ff0000","opacity":1,"strokeWidth":0},
 "encoding":{"x":{"field":"wn","type":"quantitative","axis":null},"y":{"field":"t","type":"quantitative"}}},
{"data":{"name":"ilab"},"transform":[{"filter":"datum.g=='tick'"}],"mark":{"type":"text","font":"Liberation Sans","fontSize":12,"align":"center","baseline":"middle","color":"black"},
 "encoding":{"x":{"field":"wn","type":"quantitative","axis":null},"y":{"field":"t","type":"quantitative"},"text":{"field":"text","type":"nominal"}}},
{"data":{"name":"ilab"},"transform":[{"filter":"datum.g=='word'"}],"mark":{"type":"text","font":"Liberation Sans","fontSize":30,"align":"center","baseline":"middle","color":"black"},
 "encoding":{"x":{"field":"wn","type":"quantitative","axis":null},"y":{"field":"t","type":"quantitative"},"text":{"field":"text","type":"nominal"}}}
]}
]
}
